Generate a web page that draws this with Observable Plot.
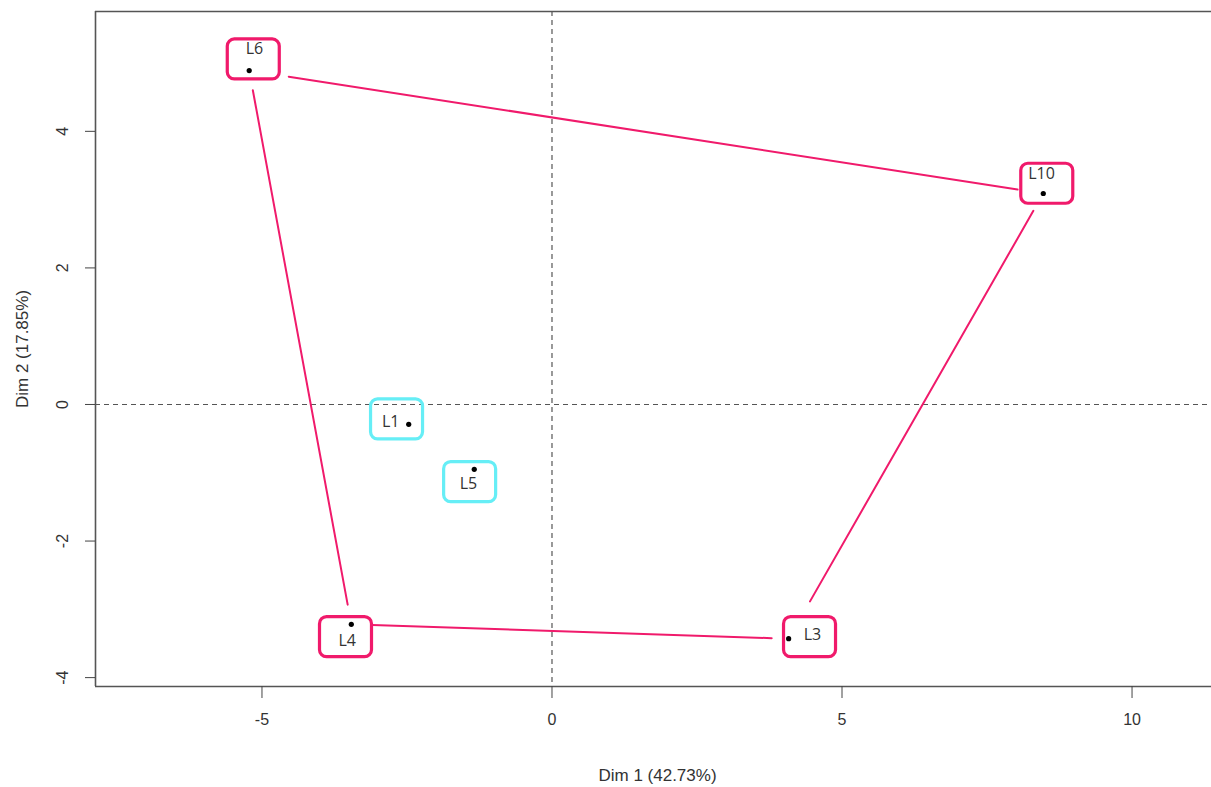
<!DOCTYPE html>
<html>
<head>
<meta charset="utf-8">
<script src="https://cdn.jsdelivr.net/npm/d3@7"></script>
<script src="https://cdn.jsdelivr.net/npm/@observablehq/plot@0.6"></script>
<style>
  html, body { margin: 0; padding: 0; background: #fff; overflow: hidden; }
  #wrap { position: relative; width: 1211px; height: 787px; }
  #edge { position: absolute; left: 9px; top: 0; width: 1px; height: 787px; background: #ececec; }
  #chart { position: absolute; left: 0; top: 0; }
</style>
</head>
<body>
<div id="wrap"><div id="edge"></div><div id="chart"></div></div>
<script>
// Individuals on the first two principal dimensions
const ids   = ["L1", "L3", "L4", "L5", "L6", "L10"];
const dim1  = [-2.47, 4.08, -3.46, -1.34, -5.22, 8.47];
const dim2  = [-0.29, -3.43, -3.22, -0.95, 4.89, 3.09];
const group = ["2", "1", "1", "2", "1", "1"];

// Label layout (repelled label box centres and text anchors, in data units)
const boxX  = [-2.68, 4.44, -3.56, -1.42, -5.15, 8.53];
const boxY  = [-0.21, -3.40, -3.40, -1.13, 5.06, 3.24];
const textX = [-2.78, 4.49, -3.53, -1.44, -5.13, 8.44];
const textY = [-0.26, -3.37, -3.46, -1.16, 5.21, 3.37];

// Convex hull of group 1, in drawing order
const hull = ["L6", "L10", "L3", "L4"];

// Axis ticks and titles
const xTicks = [-5, 0, 5, 10];
const yTicks = [-4, -2, 0, 2, 4];
const xTitle = "Dim 1 (42.73%)";
const yTitle = "Dim 2 (17.85%)";

const groupColor = {"1": "#F01A6B", "2": "#66EEF6"};

const rows = ids.map((id, i) => ({
  id, x: dim1[i], y: dim2[i], group: group[i],
  bx: boxX[i], by: boxY[i], tx: textX[i], ty: textY[i]
}));
const byId = new Map(rows.map(d => [d.id, d]));
const edges = hull.map((id, i) => ({a: byId.get(id), b: byId.get(hull[(i + 1) % hull.length])}));
// gaps left between each hull segment and its end labels (px)
const edgeInsets = [[40, 26], [20, 43], [17, 21], [20, 20]];

// Rounded label box drawn as a custom dot symbol
const roundBox = {
  draw(ctx) {
    const w = 52, h = 40, r = 7, x0 = -w / 2, y0 = -h / 2, x1 = w / 2, y1 = h / 2;
    ctx.moveTo(x0 + r, y0);
    ctx.lineTo(x1 - r, y0);
    ctx.arcTo(x1, y0, x1, y0 + r, r);
    ctx.lineTo(x1, y1 - r);
    ctx.arcTo(x1, y1, x1 - r, y1, r);
    ctx.lineTo(x0 + r, y1);
    ctx.arcTo(x0, y1, x0, y1 - r, r);
    ctx.lineTo(x0, y0 + r);
    ctx.arcTo(x0, y0, x0 + r, y0, r);
    ctx.closePath();
  }
};

const xDomain = [-7.87, 11.37];
const yDomain = [-4.13, 5.755];
const frameStroke = "#555";
const plain = d => String(d); // hyphen-minus, as printed by R

const chart = Plot.plot({
  width: 1211,
  height: 787,
  marginTop: 11,
  marginLeft: 95,
  marginBottom: 101,
  marginRight: 0,
  style: {fontFamily: "'Liberation Sans', Arial, sans-serif", background: "#fff", color: "#333"},
  x: {domain: xDomain},
  y: {domain: yDomain},
  marks: [
    // reference lines through the origin
    Plot.ruleX([0], {stroke: "#555", strokeWidth: 1.2, strokeDasharray: "5,4"}),
    Plot.ruleY([0], {stroke: "#555", strokeWidth: 1.2, strokeDasharray: "5,4"}),
    // hull segments
    ...edges.map((e, i) => Plot.arrow([e], {
      x1: d => d.a.x, y1: d => d.a.y, x2: d => d.b.x, y2: d => d.b.y,
      stroke: groupColor["1"], strokeWidth: 2, headLength: 0,
      insetStart: edgeInsets[i][0], insetEnd: edgeInsets[i][1]
    })),
    // individuals
    Plot.dot(rows, {x: "x", y: "y", r: 2.6, fill: "#000"}),
    // label boxes and labels
    Plot.dot(rows, {x: "bx", y: "by", symbol: roundBox, fill: "none",
      stroke: d => groupColor[d.group], strokeWidth: 3.2}),
    Plot.text(rows, {x: "tx", y: "ty", text: "id", fontSize: 16,
      fontFamily: "'Open Sans', sans-serif", fill: "#333"}),
    // box frame (left, top, bottom)
    Plot.ruleX([xDomain[0]], {stroke: frameStroke, strokeWidth: 1.6}),
    Plot.ruleY([yDomain[0], yDomain[1]], {stroke: frameStroke, strokeWidth: 1.6}),
    // axes
    Plot.axisX({ticks: xTicks, tickSize: 12, tickPadding: 15, fontSize: 16, tickFormat: plain,
      label: null, stroke: "#444"}),
    Plot.axisY({ticks: yTicks, tickSize: 10, tickFormat: () => "", label: null, stroke: "#444"}),
    Plot.text(yTicks, {x: () => xDomain[0], y: d => d, text: plain, rotate: -90,
      dx: -33, fontSize: 16, fill: "#333"}),
    // axis titles
    Plot.text([xTitle], {frameAnchor: "bottom", textAnchor: "middle", lineAnchor: "middle",
      dy: 89, dx: 4, fontSize: 17, fill: "#333"}),
    Plot.text([yTitle], {frameAnchor: "left", textAnchor: "middle", lineAnchor: "middle",
      dx: -73, rotate: -90, fontSize: 17, fill: "#333"})
  ]
});

document.getElementById("chart").appendChild(chart);
</script>
</body>
</html>
